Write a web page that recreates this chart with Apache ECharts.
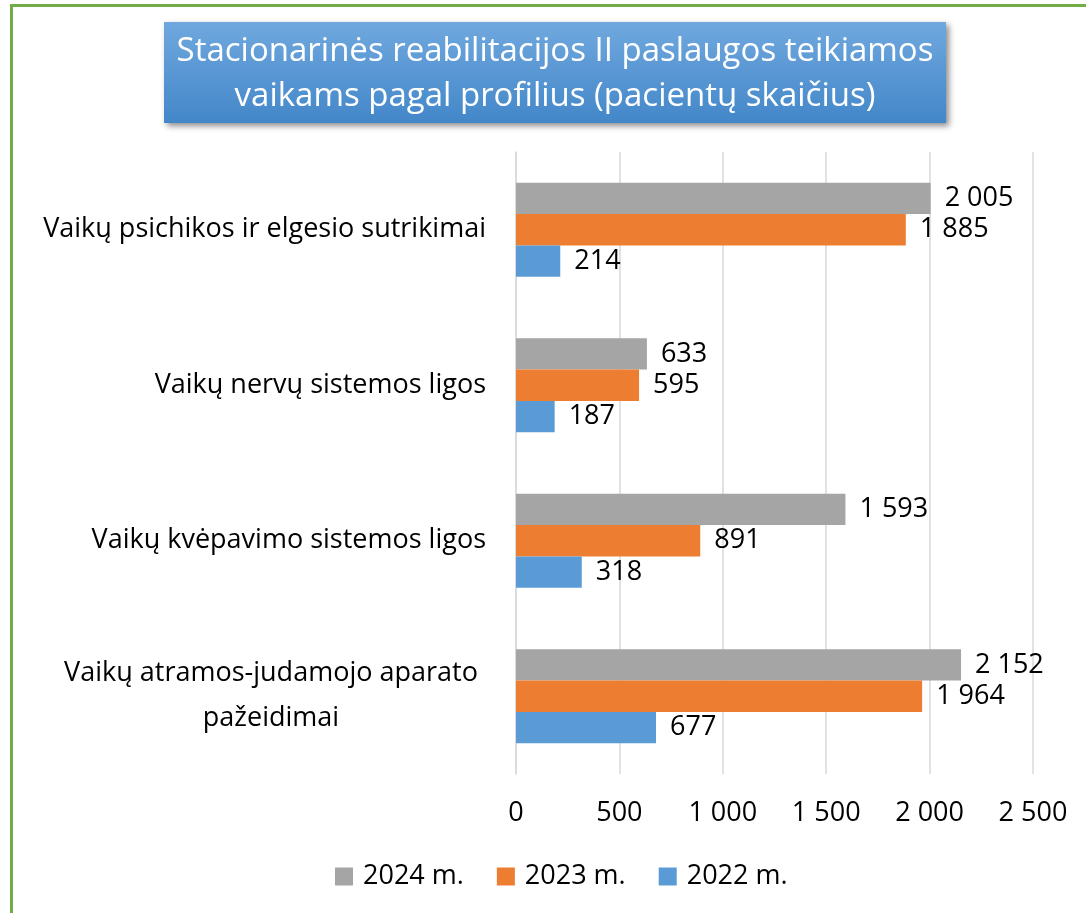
<!DOCTYPE html>
<html>
<head>
<meta charset="utf-8">
<script src="https://cdn.jsdelivr.net/npm/echarts@6/dist/echarts.min.js"></script>
<style>
  html, body { margin: 0; padding: 0; background: #fff; }
  #frame {
    position: absolute; left: 10px; top: 4px; width: 1200px; height: 1000px;
    border: 3px solid #70ad47; box-sizing: border-box;
  }
  #chart { position: absolute; left: 0; top: 0; width: 1086px; height: 913px; }
</style>
</head>
<body>
<div id="frame"></div>
<div id="chart"></div>
<script>
const categories = [
  'Vaikų psichikos ir elgesio sutrikimai',
  'Vaikų nervų sistemos ligos',
  'Vaikų kvėpavimo sistemos ligos',
  'Vaikų atramos-judamojo aparato\npažeidimai'
]
const seriesNames = ['2024 m.', '2023 m.', '2022 m.']
const values2024 = [2005, 633, 1593, 2152]
const values2023 = [1885, 595, 891, 1964]
const values2022 = [214, 187, 318, 677]
const colors = ['#a5a5a5', '#ed7d31', '#5b9bd5']

const fontFamily = '"Open Sans", sans-serif'
const fs = 27
const fmt = v => String(v).replace(/\B(?=(\d{3})+(?!\d))/g, ' ')

const mChart = echarts.init(document.getElementById('chart'))

const makeSeries = (name, data, idx) => ({
  name: name,
  type: 'bar',
  data: data,
  barGap: '0%',
  barCategoryGap: '39.5%',
  itemStyle: { color: colors[idx] },
  label: {
    show: true,
    position: 'right',
    distance: 14,
    color: '#000',
    fontSize: fs,
    fontFamily: fontFamily,
    formatter: p => fmt(p.value)
  }
})

const options = {
  animation: false,
  // 标题框
  graphic: [
    {
      type: 'rect',
      left: 164, top: 22,
      shape: { width: 782, height: 101 },
      style: {
        fill: new echarts.graphic.LinearGradient(0, 0, 0, 1, [
          { offset: 0, color: '#70a8de' },
          { offset: 1, color: '#4387c9' }
        ]),
        shadowBlur: 6,
        shadowOffsetX: 3,
        shadowOffsetY: 3,
        shadowColor: 'rgba(0,0,0,0.45)'
      }
    },
    {
      type: 'text',
      x: 555,
      y: 29,
      style: {
        text: 'Stacionarinės reabilitacijos II paslaugos teikiamos\nvaikams pagal profilius (pacientų skaičius)',
        fill: '#fff',
        font: '33px ' + fontFamily,
        textAlign: 'center',
        lineHeight: 45
      }
    }
  ],
  legend: {
    bottom: 18,
    left: 330,
    icon: 'rect',
    itemWidth: 18,
    itemHeight: 18,
    itemGap: 33,
    data: seriesNames,
    textStyle: { fontSize: fs, fontFamily: fontFamily, color: '#000', padding: [0, 0, 0, 5] }
  },
  grid: { left: 516, right: 53, top: 152, bottom: 139 },
  xAxis: {
    type: 'value',
    min: 0,
    max: 2500,
    interval: 500,
    axisLine: { show: false },
    axisTick: { show: false },
    splitLine: { lineStyle: { color: '#d9d9d9', width: 1.5 } },
    axisLabel: {
      margin: 26,
      fontSize: fs,
      fontFamily: fontFamily,
      color: '#000',
      formatter: v => fmt(v)
    }
  },
  yAxis: {
    type: 'category',
    inverse: true,
    data: categories.map((c, i) => i === 3
      ? { value: c, textStyle: { align: 'center', padding: [0, 430, 0, 0] } }
      : c),
    axisLine: { show: true, lineStyle: { color: '#d9d9d9', width: 1.5 } },
    axisTick: { show: false },
    axisLabel: {
      margin: 30,
      fontSize: fs,
      fontFamily: fontFamily,
      color: '#000',
      lineHeight: 45
    }
  },
  series: [
    makeSeries(seriesNames[0], values2024, 0),
    makeSeries(seriesNames[1], values2023, 1),
    makeSeries(seriesNames[2], values2022, 2)
  ]
}
mChart.setOption(options)
</script>
</body>
</html>
